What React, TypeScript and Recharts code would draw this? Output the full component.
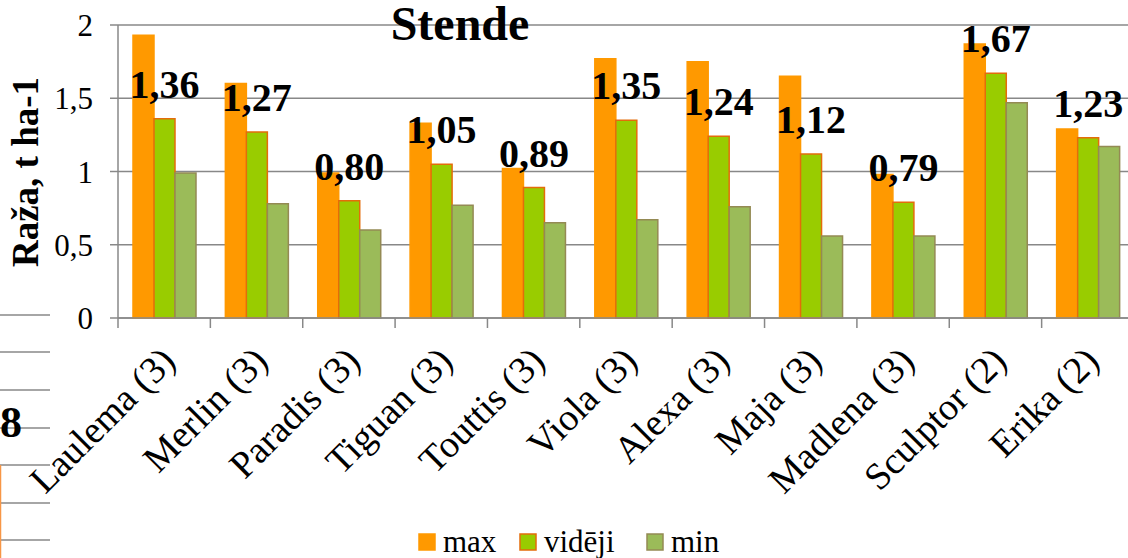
import { BarChart, Bar, XAxis, YAxis, CartesianGrid, LabelList } from "recharts";

const categories = [
  "Laulema (3)",
  "Merlin (3)",
  "Paradis (3)",
  "Tiguan (3)",
  "Touttis (3)",
  "Viola (3)",
  "Alexa (3)",
  "Maja (3)",
  "Madlena (3)",
  "Sculptor (2)",
  "Erika (2)",
];
const maxValues = [1.93, 1.6, 0.99, 1.33, 1.02, 1.77, 1.75, 1.65, 0.98, 1.87, 1.29];
const videjiValues = [1.36, 1.27, 0.8, 1.05, 0.89, 1.35, 1.24, 1.12, 0.79, 1.67, 1.23];
const minValues = [0.99, 0.78, 0.6, 0.77, 0.65, 0.67, 0.76, 0.56, 0.56, 1.47, 1.17];
const yTicks = [0, 0.5, 1, 1.5, 2];

const series = [
  { key: "max", name: "max", fill: "#FF9900", stroke: "#FF9900" },
  { key: "videji", name: "vidēji", fill: "#99CC00", stroke: "#E46C0A" },
  { key: "min", name: "min", fill: "#9BBB59", stroke: "#948A54" },
];

const data = categories.map((name, i) => ({
  name,
  max: maxValues[i],
  videji: videjiValues[i],
  min: minValues[i],
}));

const SERIF = "'Liberation Serif', 'Times New Roman', serif";
const GRID = "#888888";
const CHART_W = 1150;
const PLOT_LEFT = 118;
const PLOT_RIGHT = 1134;
const BAND = (PLOT_RIGHT - PLOT_LEFT) / categories.length;

const fmt = (v: number) => v.toFixed(2).replace(".", ",");
const fmtTick = (v: number) => String(v).replace(".", ",");

function CategoryTick(props: any) {
  const { x, y, payload, index } = props;
  const last = index === categories.length - 1;
  return (
    <g>
      <line x1={x - BAND / 2} x2={x - BAND / 2} y1={y} y2={y + 10} stroke={GRID} strokeWidth={1.5} />
      {last && <line x1={x + BAND / 2} x2={x + BAND / 2} y1={y} y2={y + 10} stroke={GRID} strokeWidth={1.5} />}
      <text
        transform={`translate(${x - 6},${y + 26}) rotate(-45)`}
        textAnchor="end"
        dy="0.71em"
        fontSize={38}
        fontFamily={SERIF}
        fill="#000"
      >
        {payload.value}
      </text>
    </g>
  );
}

const leftStubs = [315, 352, 390, 428, 465, 503, 540];
const legendPos = [
  { sq: 419, tx: 443 },
  { sq: 520, tx: 544 },
  { sq: 647, tx: 671 },
];

export default function App() {
  return (
    <div
      style={{
        position: "absolute",
        left: 0,
        top: 0,
        width: 1128,
        height: 558,
        overflow: "hidden",
        background: "#fff",
      }}
    >
      <BarChart
        width={CHART_W}
        height={558}
        data={data}
        margin={{ top: 25, right: CHART_W - PLOT_RIGHT, left: 0, bottom: 0 }}
        barSize={21}
        barGap={0}
      >
        <CartesianGrid vertical={false} stroke={GRID} strokeWidth={1.5} />
        <XAxis
          dataKey="name"
          interval={0}
          height={240}
          tickLine={false}
          tickSize={0}
          tickMargin={0}
          axisLine={{ stroke: GRID, strokeWidth: 1.5 }}
          tick={<CategoryTick />}
        />
        <YAxis
          width={PLOT_LEFT}
          domain={[0, 2]}
          ticks={yTicks}
          tickFormatter={fmtTick}
          tickSize={8}
          tickMargin={17}
          axisLine={{ stroke: GRID, strokeWidth: 1.5 }}
          tickLine={{ stroke: GRID, strokeWidth: 1.5 }}
          tick={{ fill: "#000", fontSize: 31, fontFamily: SERIF }}
        />
        {series.map((s) => (
          <Bar
            key={s.key}
            dataKey={s.key}
            name={s.name}
            fill={s.fill}
            stroke={s.stroke}
            strokeWidth={1.5}
            isAnimationActive={false}
          >
            {s.key === "videji" && (
              <LabelList
                dataKey="videji"
                position="top"
                offset={21}
                formatter={fmt}
                fill="#000"
                fontSize={40}
                fontWeight="bold"
                fontFamily={SERIF}
              />
            )}
          </Bar>
        ))}
      </BarChart>

      <svg
        width={1128}
        height={558}
        style={{ position: "absolute", left: 0, top: 0, pointerEvents: "none" }}
      >
        <text x={460} y={40} textAnchor="middle" fontSize={48} fontWeight="bold" fontFamily={SERIF} fill="#000">
          Stende
        </text>
        <text
          transform="translate(38,172) rotate(-90)"
          textAnchor="middle"
          fontSize={37}
          fontWeight="bold"
          fontFamily={SERIF}
          fill="#000"
        >
          Raža, t ha-1
        </text>
        {leftStubs.map((y) => (
          <line key={y} x1={0} x2={50} y1={y} y2={y} stroke={GRID} strokeWidth={1.5} />
        ))}
        <text x={22} y={437} textAnchor="end" fontSize={44} fontWeight="bold" fontFamily={SERIF} fill="#000">
          8
        </text>
        <line x1={0.5} x2={0.5} y1={465} y2={558} stroke="#F79646" strokeWidth={1.5} />
        {series.map((s, i) => (
          <g key={s.key}>
            <rect
              x={legendPos[i].sq}
              y={534}
              width={16}
              height={16}
              fill={s.fill}
              stroke={s.stroke}
              strokeWidth={1.5}
            />
            <text x={legendPos[i].tx} y={552} fontSize={31} fontFamily={SERIF} fill="#000">
              {s.name}
            </text>
          </g>
        ))}
      </svg>
    </div>
  );
}
